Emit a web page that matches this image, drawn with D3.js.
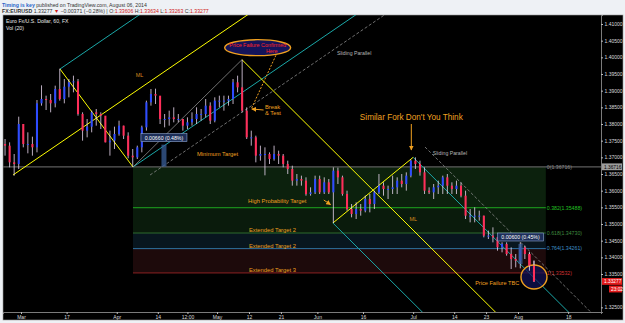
<!DOCTYPE html>
<html>
<head>
<meta charset="utf-8">
<script src="https://cdn.jsdelivr.net/npm/d3@7"></script>
<style>
  html, body { margin: 0; padding: 0; background: #eef1f5; }
  svg { display: block; font-family: "Liberation Sans", Arial, sans-serif; }
</style>
</head>
<body>
<svg id="chart" width="625" height="323"></svg>
<script>
(function () {
  'use strict';

  // EUR/USD daily bars, Feb 25 - Aug 6 2014 (bar 4 = Mar 3 = day 0)
  const dates = [
    "02-25","02-26","02-27","02-28",
    "03-03","03-04","03-05","03-06","03-07","03-10","03-11","03-12","03-13","03-14",
    "03-17","03-18","03-19","03-20","03-21","03-24","03-25","03-26","03-27","03-28","03-31",
    "04-01","04-02","04-03","04-04","04-07","04-08","04-09","04-10","04-11","04-14","04-15",
    "04-16","04-17","04-18","04-21","04-22","04-23","04-24","04-25","04-28","04-29","04-30",
    "05-01","05-02","05-05","05-06","05-07","05-08","05-09","05-12","05-13","05-14","05-15",
    "05-16","05-19","05-20","05-21","05-22","05-23","05-26","05-27","05-28","05-29","05-30",
    "06-02","06-03","06-04","06-05","06-06","06-09","06-10","06-11","06-12","06-13","06-16",
    "06-17","06-18","06-19","06-20","06-23","06-24","06-25","06-26","06-27","06-30",
    "07-01","07-02","07-03","07-04","07-07","07-08","07-09","07-10","07-11","07-14","07-15",
    "07-16","07-17","07-18","07-21","07-22","07-23","07-24","07-25","07-28","07-29","07-30","07-31",
    "08-01","08-04","08-05","08-06"
  ];
  const firstOpen = 1.3740;
  const highs = [
    1.3755,1.3745,1.3710,1.3822,
    1.3800,1.3775,1.3762,1.3872,1.3916,1.3885,1.3890,1.3915,1.3966,1.3935,
    1.3935,1.3945,1.3935,1.3835,1.3815,1.3840,1.3845,1.3835,1.3815,1.3780,1.3792,
    1.3810,1.3795,1.3775,1.3725,1.3735,1.3795,1.3870,1.3905,1.3906,1.3860,1.3830,
    1.3840,1.3850,1.3830,1.3815,1.3820,1.3835,1.3850,1.3845,1.3875,1.3865,1.3880,
    1.3885,1.3885,1.3885,1.3935,1.3945,1.3993,1.3850,1.3780,1.3765,1.3735,1.3730,
    1.3715,1.3735,1.3720,1.3710,1.3690,1.3675,1.3650,1.3645,1.3640,1.3610,1.3645,
    1.3645,1.3640,1.3635,1.3670,1.3669,1.3645,1.3600,1.3560,1.3565,1.3560,1.3585,
    1.3590,1.3600,1.3650,1.3625,1.3615,1.3645,1.3640,1.3650,1.3655,1.3693,
    1.3700,1.3690,1.3670,1.3610,1.3620,1.3630,1.3645,1.3650,1.3625,1.3630,1.3625,
    1.3600,1.3545,1.3550,1.3540,1.3525,1.3480,1.3490,1.3460,1.3445,1.3445,1.3430,1.3410,
    1.3445,1.3435,1.3415,1.3390
  ];
  const lows = [
    1.3705,1.3670,1.3645,1.3665,
    1.3730,1.3712,1.3705,1.3715,1.3855,1.3842,1.3835,1.3850,1.3870,1.3862,
    1.3880,1.3895,1.3825,1.3750,1.3760,1.3775,1.3795,1.3785,1.3745,1.3705,1.3725,
    1.3765,1.3755,1.3697,1.3672,1.3695,1.3715,1.3780,1.3855,1.3860,1.3800,1.3790,
    1.3795,1.3805,1.3805,1.3780,1.3785,1.3795,1.3800,1.3810,1.3820,1.3800,1.3805,
    1.3850,1.3840,1.3855,1.3860,1.3895,1.3835,1.3755,1.3735,1.3685,1.3690,1.3646,
    1.3680,1.3690,1.3680,1.3670,1.3650,1.3615,1.3615,1.3615,1.3585,1.3585,1.3590,
    1.3590,1.3590,1.3590,1.3503,1.3620,1.3585,1.3540,1.3520,1.3515,1.3525,1.3535,
    1.3535,1.3545,1.3590,1.3585,1.3575,1.3590,1.3590,1.3610,1.3600,1.3640,
    1.3665,1.3645,1.3590,1.3590,1.3575,1.3590,1.3590,1.3590,1.3590,1.3590,1.3580,
    1.3515,1.3505,1.3505,1.3510,1.3460,1.3455,1.3445,1.3420,1.3415,1.3405,1.3365,1.3370,
    1.3367,1.3395,1.3360,1.3326
  ];
  const closes = [
    1.3735,1.3685,1.3680,1.3800,
    1.3740,1.3740,1.3730,1.3862,1.3875,1.3872,1.3862,1.3905,1.3875,1.3912,
    1.3925,1.3928,1.3830,1.3780,1.3792,1.3835,1.3830,1.3825,1.3745,1.3750,1.3770,
    1.3795,1.3765,1.3705,1.3700,1.3730,1.3790,1.3865,1.3890,1.3885,1.3815,1.3815,
    1.3820,1.3815,1.3815,1.3795,1.3805,1.3815,1.3830,1.3830,1.3855,1.3810,1.3870,
    1.3870,1.3870,1.3875,1.3925,1.3910,1.3840,1.3760,1.3760,1.3705,1.3710,1.3710,
    1.3695,1.3710,1.3705,1.3680,1.3665,1.3630,1.3635,1.3630,1.3590,1.3595,1.3635,
    1.3595,1.3625,1.3595,1.3660,1.3640,1.3590,1.3545,1.3530,1.3545,1.3540,1.3575,
    1.3560,1.3595,1.3615,1.3605,1.3605,1.3610,1.3630,1.3620,1.3645,1.3690,
    1.3680,1.3655,1.3600,1.3595,1.3610,1.3615,1.3640,1.3615,1.3605,1.3615,1.3585,
    1.3525,1.3525,1.3525,1.3525,1.3465,1.3465,1.3460,1.3430,1.3440,1.3410,1.3395,1.3390,
    1.3430,1.3410,1.3375,1.33277
  ];
  const barOffset = 4;

  // time axis: trading-day index of each tick, and its label
  const timeTicks = [0, 10, 21, 30, 36.5, 43, 50, 57, 65, 75, 86, 95, 102, 109, 120];
  const timeLabels = ["Mar", "17", "Apr", "14", "12:00", "May", "12", "21", "Jun", "16", "Jul", "14", "23", "Aug", "18"];
  // 1.33000 sits under the last-price tag, so it is not listed
  const priceTicks = [1.325, 1.335, 1.34, 1.345, 1.35, 1.355, 1.36, 1.365, 1.37,
    1.375, 1.38, 1.385, 1.39, 1.395, 1.40, 1.405, 1.41];

  // drawings: [day index, price]
  const fork1 = [[-1.75, 1.3647], [8.55, 1.3965], [24.56, 1.3671]];
  const fork2 = [[48.46, 1.3993], [68.4, 1.3503], [86, 1.3700]];
  const slide1 = [28.3, 1.3647];
  const slide2 = [88.6, 1.3731];
  const trendPts = [[24.56, 1.3671], [48.46, 1.3993]];
  const fibRatios = ["0", "0.382", "0.618", "0.764", "1"];
  const fibPrices = [1.36716, 1.35488, 1.34730, 1.34261, 1.33532];
  const fibSpan = [24.56, 115.1];
  const measureDays = [[30.8, 31.9], [109.1, 110.0]];
  const measurePrices = [[1.3672, 1.3738], [1.3380, 1.3440]];
  const measureLabels = ["0.00660 (0.48%)", "0.00600 (0.45%)"];
  const lastPrice = 1.33277;

  const svg = d3.select("#chart");
  const left = 3, right = 601, top = 15, bottom = 312;

  const x = d3.scaleLinear().domain([-3.95, 127.2]).range([left, right]);
  const y = d3.scaleLinear().domain([1.3236, 1.4127]).range([bottom, top]);

  // page header
  const head = svg.append("g").attr("font-size", 5.2).attr("fill", "#333");
  const h1 = head.append("text").attr("x", 2).attr("y", 6.5);
  h1.append("tspan").attr("fill", "#2c66c8").attr("font-weight", "bold").text("Timing is key");
  h1.append("tspan").text(" published on TradingView.com, August 06, 2014");
  const h2 = head.append("text").attr("x", 2).attr("y", 12.5);
  h2.append("tspan").attr("font-weight", "bold").text("FX:EURUSD ");
  h2.append("tspan").text("1.33277 ");
  h2.append("tspan").attr("fill", "#d01818").text("▼");
  h2.append("tspan").text(" −0.00371 (−0.28%) | O:");
  h2.append("tspan").attr("fill", "#d01818").text("1.33606");
  h2.append("tspan").text(" H:");
  h2.append("tspan").attr("fill", "#d01818").text("1.33634");
  h2.append("tspan").text(" L:");
  h2.append("tspan").attr("fill", "#d01818").text("1.33263");
  h2.append("tspan").text(" C:");
  h2.append("tspan").attr("fill", "#d01818").text("1.33277");

  // chart frame
  svg.append("rect").attr("x", left).attr("y", top).attr("width", 623 - left).attr("height", 320 - top)
    .attr("fill", "#000").attr("stroke", "#9a9a9a").attr("stroke-width", 0.6);

  svg.append("clipPath").attr("id", "clip").append("rect")
    .attr("x", left).attr("y", top).attr("width", right - left).attr("height", bottom - top);
  const g = svg.append("g").attr("clip-path", "url(#clip)");

  // fib zones
  const fibFill = ["#0c210d", "#0a1b0c", "#08161f", "#1d0a0b"];
  const fibStroke = ["#5c5c5c", "#1fa81f", "#2c6b2c", "#2f74a3", "#8c2222"];
  const fibText = ["#8a8a8a", "#22c022", "#3f8a3f", "#3f90c8", "#d03030"];
  for (let k = 0; k < 4; k++) {
    g.append("rect")
      .attr("x", x(fibSpan[0])).attr("width", x(fibSpan[1]) - x(fibSpan[0]))
      .attr("y", y(fibPrices[k])).attr("height", y(fibPrices[k + 1]) - y(fibPrices[k]))
      .attr("fill", fibFill[k]);
  }
  // horizontal line at level 0 runs the full width
  g.append("line").attr("x1", left).attr("x2", right)
    .attr("y1", y(fibPrices[0])).attr("y2", y(fibPrices[0]))
    .attr("stroke", fibStroke[0]).attr("stroke-width", 1.2);
  fibPrices.forEach((p, k) => {
    if (k === 0) return;
    g.append("line").attr("x1", x(fibSpan[0])).attr("x2", x(fibSpan[1]))
      .attr("y1", y(p)).attr("y2", y(p))
      .attr("stroke", fibStroke[k]).attr("stroke-width", 1);
  });
  fibPrices.forEach((p, k) => {
    g.append("text").attr("x", x(fibSpan[1]) + 1).attr("y", y(p) + 1.8)
      .attr("font-size", 5.2).attr("fill", fibText[k])
      .text(`${fibRatios[k]}(${d3.format(".5f")(p)})`);
  });

  // pitchforks
  const line = d3.line().x(d => x(d[0])).y(d => y(d[1]));
  function ray(a, dir, len) { return [a, [a[0] + dir[0] * len, a[1] + dir[1] * len]]; }
  function drawFork(f) {
    const mid = [(f[1][0] + f[2][0]) / 2, (f[1][1] + f[2][1]) / 2];
    const dir = [mid[0] - f[0][0], mid[1] - f[0][1]];
    g.append("path").attr("d", line(ray(f[0], dir, 8))).attr("stroke", "#ffff00").attr("stroke-width", 1).attr("fill", "none");
    g.append("path").attr("d", line([f[1], f[2]])).attr("stroke", "#ffff00").attr("stroke-width", 1).attr("fill", "none");
    g.append("path").attr("d", line(ray(f[1], dir, 8))).attr("stroke", "#1aa7a7").attr("stroke-width", 1).attr("fill", "none");
    g.append("path").attr("d", line(ray(f[2], dir, 8))).attr("stroke", "#1aa7a7").attr("stroke-width", 1).attr("fill", "none");
    return dir;
  }
  const dir1 = drawFork(fork1);
  const dir2 = drawFork(fork2);
  g.append("path").attr("d", line(ray(slide1, dir1, 8))).attr("stroke", "#8c8c8c")
    .attr("stroke-dasharray", "3,2").attr("stroke-width", 0.8).attr("fill", "none");
  g.append("path").attr("d", line(ray(slide2, dir2, 8))).attr("stroke", "#8c8c8c")
    .attr("stroke-dasharray", "3,2").attr("stroke-width", 0.8).attr("fill", "none");
  g.append("path").attr("d", line(trendPts)).attr("stroke", "#a0a0a0")
    .attr("stroke-width", 0.7).attr("fill", "none");

  // price bars
  const bars = dates.map((d, k) => ({
    i: k - barOffset,
    o: k ? closes[k - 1] : firstOpen,
    h: highs[k], l: lows[k], c: closes[k]
  }));
  const bw = (x(1) - x(0)) * 0.45;
  const drawBars = (sel, data) => {
    sel.selectAll("line").data(data).join("line")
      .attr("x1", d => x(d.i + 0.5)).attr("x2", d => x(d.i + 0.5))
      .attr("y1", d => y(d.h)).attr("y2", d => y(d.l))
      .attr("stroke", "#ead8f0").attr("stroke-width", 0.8);
    sel.selectAll("rect").data(data).join("rect")
      .attr("x", d => x(d.i + 0.5) - bw / 2).attr("width", bw)
      .attr("y", d => y(Math.max(d.o, d.c)))
      .attr("height", d => Math.max(1, Math.abs(y(d.o) - y(d.c))))
      .attr("fill", d => d.c >= d.o ? "#2e4cff" : "#ff2e5a");
  };
  drawBars(g.append("g"), bars);

  // measuring tools
  measureDays.forEach((md, k) => {
    const mp = measurePrices[k];
    g.append("rect").attr("x", x(md[0])).attr("width", x(md[1]) - x(md[0]))
      .attr("y", y(mp[1])).attr("height", y(mp[0]) - y(mp[1]))
      .attr("fill", "#3a5f9a").attr("fill-opacity", 0.75);
    const cx = x((md[0] + md[1]) / 2);
    g.append("rect").attr("x", cx - 23).attr("y", y(mp[1]) - 11).attr("width", 46).attr("height", 8)
      .attr("fill", "#1c2e58").attr("stroke", "#8fa6d0").attr("stroke-width", 0.6);
    g.append("text").attr("x", cx).attr("y", y(mp[1]) - 5).attr("text-anchor", "middle")
      .attr("font-size", 5.2).attr("fill", "#fff").text(measureLabels[k]);
  });

  // annotations
  svg.append("defs").append("marker").attr("id", "arr").attr("viewBox", "0 0 10 10")
    .attr("refX", 9).attr("refY", 5).attr("markerWidth", 5).attr("markerHeight", 5)
    .attr("orient", "auto").append("path").attr("d", "M0,0L10,5L0,10z").attr("fill", "#f0a020");
  const orange = "#f0a020";
  const note = (i, p, txt, size, color, anchor) => g.append("text")
    .attr("x", x(i)).attr("y", y(p)).attr("font-size", size).attr("fill", color)
    .attr("text-anchor", anchor || "start").text(txt);

  note(fork1[2][0] + 0.6, 1.3941, "ML", 5.5, "#d88a1e");
  note(fork2[2][0] - 0.8, 1.3509, "ML", 5.5, "#d88a1e");
  note(69.3, 1.4008, "Sliding Parallel", 5.2, "#b5b5b5");
  note(90.3, 1.3706, "Sliding Parallel", 5.2, "#b5b5b5");
  note(85.6, 1.3812, "Similar Fork Don't You Think", 8.2, orange, "middle");
  g.append("line").attr("x1", x(85.6)).attr("x2", x(85.6)).attr("y1", y(1.3800)).attr("y2", y(1.3722))
    .attr("stroke", orange).attr("stroke-width", 1).attr("marker-end", "url(#arr)");
  note(38.6, 1.3703, "Minimum Target", 5.8, orange);
  note(49.8, 1.3564, "High Probability Target", 5.8, orange);
  g.append("line").attr("x1", x(66.4)).attr("x2", x(67.9)).attr("y1", y(1.3572)).attr("y2", y(1.3558))
    .attr("stroke", orange).attr("stroke-width", 1).attr("marker-end", "url(#arr)");
  note(50, fibPrices[2] + 0.0003, "Extended Target 2", 5.8, orange);
  note(50, fibPrices[3] + 0.0003, "Extended Target 2", 5.8, orange);
  note(50, fibPrices[4] + 0.0003, "Extended Target 3", 5.8, orange);

  // price failure ellipse
  g.append("line").attr("x1", x(55.9)).attr("x2", x(50.6)).attr("y1", y(1.4006)).attr("y2", y(1.3848))
    .attr("stroke", orange).attr("stroke-width", 1).attr("stroke-dasharray", "2,1.5");
  g.append("ellipse").attr("cx", x(51.9)).attr("cy", y(1.4029)).attr("rx", 33).attr("ry", 8)
    .attr("fill", "#14145a").attr("stroke", orange).attr("stroke-width", 1.4);
  note(51.9, 1.4031, "Price Failure Confirmed", 5.4, "#ff2424", "middle");
  note(55.0, 1.4014, "Here", 5.4, "#ff2424", "middle");
  note(53.5, 1.3844, "Break", 5.8, orange);
  note(53.5, 1.3826, "& Test", 5.8, orange);
  g.append("line").attr("x1", x(53.2)).attr("x2", x(50.6)).attr("y1", y(1.3842)).attr("y2", y(1.3845))
    .attr("stroke", orange).attr("stroke-width", 1).attr("marker-end", "url(#arr)");

  // TBC circle, with the last bars showing through
  g.append("ellipse").attr("cx", x(112.5)).attr("cy", y(1.3341)).attr("rx", 13).attr("ry", 12)
    .attr("fill", "#12125a").attr("fill-opacity", 0.7).attr("stroke", orange).attr("stroke-width", 1.4);
  drawBars(g.append("g"), bars.slice(-2));
  note(99.6, 1.3316, "Price Failure TBC", 5.6, orange);

  // chart title
  svg.append("text").attr("x", 6).attr("y", 23).attr("font-size", 5.2).attr("fill", "#e8e8e8").text("Euro Fx/U.S. Dollar, 60, FX");
  svg.append("text").attr("x", 6).attr("y", 30).attr("font-size", 5.2).attr("fill", "#e8e8e8").text("Vol (20)");

  // axes
  const yAxis = svg.append("g").attr("transform", `translate(${right},0)`)
    .call(d3.axisRight(y).tickValues(priceTicks).tickFormat(d3.format(".5f")).tickSize(2).tickPadding(1.5));
  yAxis.select(".domain").attr("stroke", "#9a9a9a").attr("stroke-width", 0.8);
  yAxis.selectAll(".tick line").attr("stroke", "#bbb");
  yAxis.selectAll("text").attr("font-size", 5).attr("fill", "#dcdcdc").attr("font-family", "Liberation Sans, Arial, sans-serif");

  const xAxis = svg.append("g").attr("transform", `translate(0,${bottom})`)
    .call(d3.axisBottom(x).tickValues(timeTicks).tickFormat((d, k) => timeLabels[k]).tickSize(2).tickPadding(1));
  xAxis.select(".domain").attr("stroke", "#9a9a9a").attr("stroke-width", 0.8);
  xAxis.selectAll(".tick line").attr("stroke", "#bbb");
  xAxis.selectAll("text").attr("font-size", 5).attr("fill", "#dcdcdc").attr("font-family", "Liberation Sans, Arial, sans-serif");

  // price scale labels
  const tag = (p, txt, fill, color, dy, x0) => {
    svg.append("rect").attr("x", x0).attr("y", y(p) - 3.4 + dy).attr("width", 622 - x0).attr("height", 6.8).attr("fill", fill);
    svg.append("text").attr("x", x0 + 2).attr("y", y(p) + 1.7 + dy).attr("font-size", 4.8).attr("fill", color).text(txt);
  };
  tag(fibPrices[0], d3.format(".5f")(fibPrices[0]), "#9c9c9c", "#000", 0, right + 1);
  tag(lastPrice, d3.format(".5f")(lastPrice), "#e31c1c", "#fff", 0, right + 1);
  tag(lastPrice, "23:02", "#e31c1c", "#fff", 7.6, right + 8);
})();
</script>
</body>
</html>
